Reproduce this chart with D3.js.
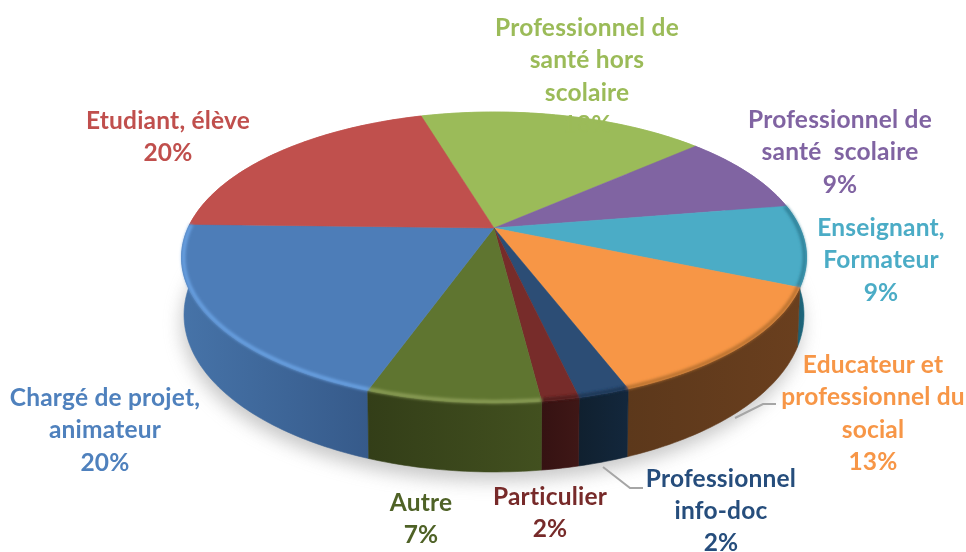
<!DOCTYPE html>
<html><head><meta charset="utf-8">
<script src="https://cdn.jsdelivr.net/npm/d3@7/dist/d3.min.js"></script>
<style>html,body{margin:0;padding:0;background:#fff}svg{display:block}</style></head>
<body><svg id="c" width="966" height="552"></svg>
<script>
const categories = ["Professionnel de santé hors scolaire","Professionnel de santé scolaire","Enseignant, Formateur","Educateur et professionnel du social","Professionnel info-doc","Particulier","Autre","Chargé de projet, animateur","Etudiant, élève"];
const values = [18,9,9,12.8,2.2,1.6,7.4,20,20];
const topColors = ["#9bbb59","#8064a2","#4bacc6","#f79646","#2c4d75","#772c2a","#5f7530","#4d7db8","#c0504d"];
const sideLight = ["#9bbb59","#8064a2","#1f6a80","#6a3f1e","#13273c","#3f1716","#42501f","#4673a8","#c0504d"];
const sideDark  = ["#9bbb59","#8064a2","#174f60","#5c381b","#10202f","#351212","#333e18","#365a8a","#c0504d"];
const bevelColors = [null,null,"#2f7f96","#b5702f","#1c3552","#4d1d1c","#8d9f58","#6aa3e4",null];
const labelLines = [["Professionnel de","santé hors","scolaire","18%"],["Professionnel de","santé  scolaire","9%"],["Enseignant,","Formateur","9%"],["Educateur et","professionnel du","social","13%"],["Professionnel","info-doc","2%"],["Particulier","2%"],["Autre","7%"],["Chargé de projet,","animateur","20%"],["Etudiant, élève","20%"]];
const labelColors = ["#9bbb59","#8064a2","#4bacc6","#f79646","#254d7c","#772c2a","#4f6228","#4f81bd","#c0504d"];
const labelX = [587,840,881,873,721,550,421,105,168];
const labelY = [36,128,236,373,486.5,505,511,406,129];
const lineGap = 32.4;
const leaders = [[[735,418],[763,404],[776,404]],[[603,467],[630,488],[643,488]]];

const svg = d3.select("#c");
const defs = svg.append("defs");
[["b1",1.6],["b8",9],["bt",0.5]].forEach(([id,s])=>{
  defs.append("filter").attr("id",id).attr("x","-20%").attr("y","-20%").attr("width","140%").attr("height","140%")
    .append("feGaussianBlur").attr("stdDeviation",s);
});

const cx=494, cy=228, k=0.2027, B=139.5, A=306, depth=55;
function proj(a,r=1,d=0){
  const u=Math.sin(a)*r, v=-Math.cos(a)*r, w=1/(1-k*v);
  return [cx+A*u*w*(d?0.992:1), cy+B*v*w+d*w];
}
const start=-16.5*Math.PI/180;
const pie=d3.pie().sort(null).value(d=>d).startAngle(start).endAngle(start+2*Math.PI);
const arcs=pie(values).map((p,i)=>({...p,i}));
const line=d3.line();
const sample=(a0,a1,r=1,d=0)=>d3.range(0,1.0001,1/Math.max(6,Math.ceil((a1-a0)*60))).map(t=>proj(a0+(a1-a0)*t,r,d));

// ground shadow
svg.append("path").attr("d",line(sample(0,2*Math.PI,1,depth))+"Z").attr("fill","#9a9a9a").attr("opacity",0.55)
  .attr("transform","translate(-2,9)").attr("filter","url(#b8)");

// leader lines
svg.append("g").selectAll("path").data(leaders).join("path").attr("d",d=>line(d)).attr("fill","none").attr("stroke","#a6a6a6").attr("stroke-width",2);

// side walls, far to near
const gSide=svg.append("g");
arcs.slice().sort((a,b)=>-Math.cos((a.startAngle+a.endAngle)/2)-(-Math.cos((b.startAngle+b.endAngle)/2))).forEach(a=>{
  const id="side"+a.i;
  const g=defs.append("linearGradient").attr("id",id);
  g.append("stop").attr("offset",0).attr("stop-color",a.i===7?sideLight[a.i]:sideDark[a.i]);
  g.append("stop").attr("offset",1).attr("stop-color",a.i===7?sideDark[a.i]:sideLight[a.i]);
  const up=sample(a.startAngle,a.endAngle), down=sample(a.startAngle,a.endAngle,1,depth).reverse();
  gSide.append("path").attr("d",line(up.concat(down))+"Z").attr("fill",`url(#${id})`).attr("stroke",`url(#${id})`).attr("stroke-width",0.6);
});

// top face
const gTop=svg.append("g");
arcs.forEach(a=>{
  gTop.append("path").attr("d",line([[cx,cy],...sample(a.startAngle,a.endAngle)])+"Z").attr("fill",topColors[a.i]).attr("stroke",topColors[a.i]).attr("stroke-width",0.5);
});
// bevel along rim
const gBev=svg.append("g").attr("filter","url(#b1)");
arcs.forEach(a=>{
  if(!bevelColors[a.i]) return;
  gBev.append("path").attr("d",line(sample(a.startAngle,a.endAngle,0.994))).attr("fill","none").attr("stroke",bevelColors[a.i]).attr("stroke-width",3.5);
});

// labels
const gL=svg.append("g").attr("filter","url(#bt)").attr("font-family","Lato, 'Open Sans', sans-serif").attr("font-size",24.5).attr("letter-spacing",0.2).attr("font-weight",700).attr("text-anchor","middle");
labelLines.forEach((ls,i)=>{
  ls.forEach((t,j)=>{
    gL.append("text").attr("x",labelX[i]).attr("y",labelY[i]+j*lineGap).attr("fill",labelColors[i]).style("white-space","pre").text(t);
  });
});
</script></body></html>
